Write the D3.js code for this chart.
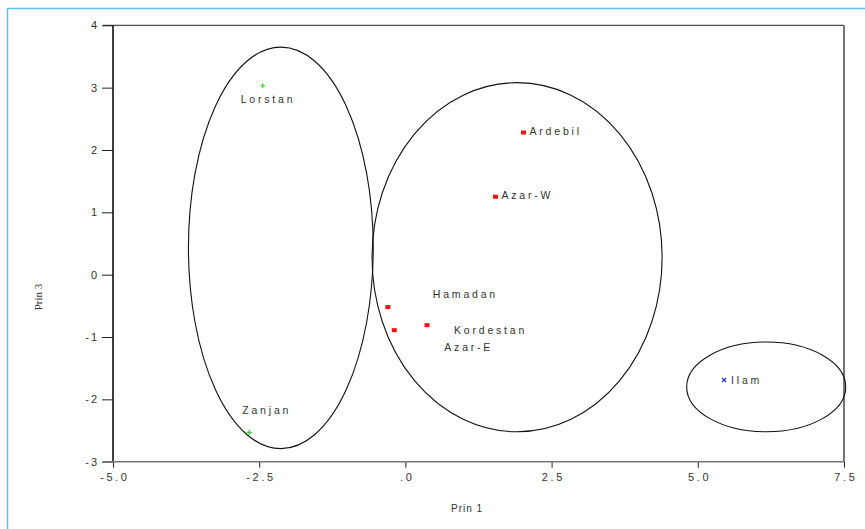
<!DOCTYPE html>
<html>
<head>
<meta charset="utf-8">
<script src="https://cdn.jsdelivr.net/npm/d3@7"></script>
<style>
  html, body { margin: 0; padding: 0; background: #fff; }
  svg { display: block; }
</style>
</head>
<body>
<svg id="chart" width="865" height="529"></svg>
<script>
// ---- data ----
const names  = ["Lorstan", "Zanjan", "Ardebil", "Azar-W", "Hamadan", "Azar-E", "Kordestan", "Ilam"];
const prin1  = [-2.44, -2.67, 2.02, 1.54, -0.30, -0.19, 0.37, 5.45];
const prin3  = [3.03, -2.53, 2.28, 1.25, -0.52, -0.89, -0.81, -1.69];
const groups = [1, 1, 2, 2, 2, 2, 2, 3];

// cluster ellipses (data units)
const ellCx = [-2.13, 1.91, 6.17];
const ellCy = [0.43, 0.28, -1.80];
const ellRx = [1.58, 2.48, 1.36];
const ellRy = [3.22, 2.80, 0.72];

const xTicks = [-5, -2.5, 0, 2.5, 5, 7.5];
const xTickLabels = ["-5.0", "-2.5", ".0", "2.5", "5.0", "7.5"];
const yTicks = [-3, -2, -1, 0, 1, 2, 3, 4];
const yTickLabels = ["-3", "-2", "-1", "0", "1", "2", "3", "4"];

// ---- layout ----
const svg = d3.select("#chart");
const L = 113, R = 844, T = 25.3, B = 461.7;
const x = d3.scaleLinear().domain([-5, 7.5]).range([L, R]);
const y = d3.scaleLinear().domain([-3, 4]).range([B, T]);

// label offsets in px (from marker)
const labelDx = [-22, -7, 6, 6, 45, 50, 27, 7];
const labelDy = [17, -18, 2.5, 2.5, -9, 21, 9, 3.5];

// outer light-blue frame
svg.append("rect").attr("x", 7.5).attr("y", 8.5).attr("width", 900).attr("height", 600)
  .attr("fill", "none").attr("stroke", "#55c4ee").attr("stroke-width", 1.5);

const font = "'Liberation Sans', Arial, sans-serif";

// y axis
const yAxis = d3.axisLeft(y).tickValues(yTicks).tickSize(11).tickPadding(5)
  .tickFormat((d, i) => yTickLabels[i]);
const gy = svg.append("g").attr("transform", `translate(${L},0)`).call(yAxis);
gy.select(".domain").remove();
gy.selectAll(".tick line").attr("stroke", "#222").attr("stroke-width", 1);
gy.selectAll(".tick text").attr("font-family", font).attr("font-size", 11)
  .attr("fill", "#333").attr("letter-spacing", "2px").attr("dx", "2px");

// x axis
const xAxis = d3.axisBottom(x).tickValues(xTicks).tickSize(6).tickPadding(6)
  .tickFormat((d, i) => xTickLabels[i]);
const gx = svg.append("g").attr("transform", `translate(0,${B})`).call(xAxis);
gx.select(".domain").remove();
gx.selectAll(".tick line").attr("stroke", "#222").attr("stroke-width", 1);
gx.selectAll(".tick text").attr("font-family", font).attr("font-size", 11)
  .attr("fill", "#333").attr("letter-spacing", "2.6px").attr("dx", "1.3px");

// frame lines
svg.append("line").attr("x1", L).attr("x2", L).attr("y1", T).attr("y2", B)
  .attr("stroke", "#000").attr("stroke-width", 1.5);
svg.append("line").attr("x1", L - 10).attr("x2", R).attr("y1", T).attr("y2", T)
  .attr("stroke", "#222").attr("stroke-width", 1);
svg.append("line").attr("x1", L - 10).attr("x2", R).attr("y1", B).attr("y2", B)
  .attr("stroke", "#777").attr("stroke-width", 1.5);
svg.append("line").attr("x1", R).attr("x2", R).attr("y1", T).attr("y2", B)
  .attr("stroke", "#666").attr("stroke-width", 1.8);

// axis titles
svg.append("text").attr("x", 451).attr("y", 512).attr("font-family", font)
  .attr("font-size", 10).attr("fill", "#333").attr("letter-spacing", "1px").text("Prin 1");
svg.append("text").attr("transform", "translate(42,297) rotate(-90)")
  .attr("text-anchor", "middle").attr("font-family", "'Liberation Serif', 'Times New Roman', serif")
  .attr("font-size", 11).attr("fill", "#333").text("Prin 3");

// ellipses
svg.selectAll("ellipse.cl").data(ellCx).enter().append("ellipse")
  .attr("cx", d => x(d))
  .attr("cy", (d, i) => y(ellCy[i]))
  .attr("rx", (d, i) => x(d + ellRx[i]) - x(d))
  .attr("ry", (d, i) => y(ellCy[i] - ellRy[i]) - y(ellCy[i]))
  .attr("fill", "none").attr("stroke", "#111").attr("stroke-width", 1.1);

// markers
const pts = names.map((n, i) => ({ n, px: x(prin1[i]), py: y(prin3[i]), g: groups[i], i }));
const mk = svg.append("g");
pts.forEach(p => {
  if (p.g === 1) {
    mk.append("path").attr("d", `M${p.px - 2.5},${p.py}H${p.px + 2.5}M${p.px},${p.py - 2.5}V${p.py + 2.5}`)
      .attr("stroke", "#22dd22").attr("stroke-width", 1.2);
  } else if (p.g === 2) {
    mk.append("rect").attr("x", p.px - 2.5).attr("y", p.py - 2).attr("width", 5).attr("height", 4)
      .attr("fill", "#ee1111");
  } else {
    mk.append("path").attr("d", `M${p.px - 2},${p.py - 2}L${p.px + 2},${p.py + 2}M${p.px - 2},${p.py + 2}L${p.px + 2},${p.py - 2}`)
      .attr("stroke", "#2233ee").attr("stroke-width", 1.2);
  }
});

// labels
svg.append("g").selectAll("text").data(pts).enter().append("text")
  .attr("x", d => d.px + labelDx[d.i])
  .attr("y", d => d.py + labelDy[d.i])
  .attr("font-family", font).attr("font-size", 10.5).attr("fill", "#333")
  .attr("letter-spacing", "2.8px")
  .text(d => d.n);
</script>
</body>
</html>
